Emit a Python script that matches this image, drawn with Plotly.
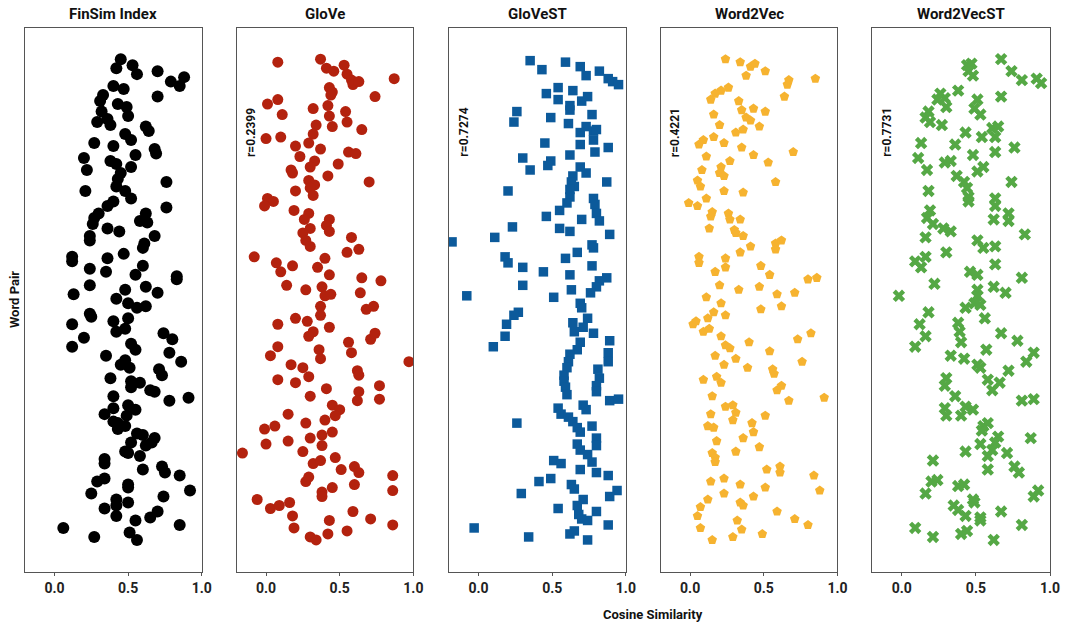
import plotly.graph_objects as go

# ---------------- data (cosine similarity vs. word-pair index) ----------------
panel_titles = ["FinSim Index", "GloVe", "GloVeST", "Word2Vec", "Word2VecST"]
r_labels = [None, "r=0.2399", "r=0.7274", "r=0.4221", "r=0.7731"]
x_ticks = [0.0, 0.5, 1.0]

finsim_x = [0.45,0.42,0.53,0.56,0.70,0.79,0.85,0.88,0.70,0.40,
            0.47,0.33,0.31,0.43,0.49,0.50,0.32,0.36,0.29,0.38,
            0.62,0.64,0.48,0.52,0.27,0.40,0.68,0.69,0.55,0.20,
            0.38,0.42,0.52,0.22,0.45,0.43,0.42,0.48,0.52,0.76,
            0.21,0.40,0.36,0.76,0.30,0.27,0.26,0.62,0.58,0.63,
            0.36,0.44,0.68,0.24,0.24,0.61,0.60,0.12,0.12,0.36,
            0.47,0.24,0.35,0.60,0.55,0.83,0.83,0.24,0.62,0.70,
            0.48,0.42,0.13,
            0.50,0.56,0.62,0.24,0.25,0.12,0.40,0.42,0.48,0.50,
            0.74,0.80,0.20,0.12,0.52,0.55,0.78,0.86,0.35,0.48,
            0.45,0.51,0.71,0.73,0.38,0.52,0.52,0.58,0.65,0.68,
            0.40,0.78,0.91,0.40,0.50,0.55,0.34,0.49,0.40,0.43,
            0.43,0.48,0.56,0.60,0.68,0.66,0.62,0.52,0.48,0.50,
            0.58,0.34,0.34,0.60,0.73,0.75,0.85,0.29,0.34,0.50,
            0.50,0.25,0.92,0.74,0.42,0.42,0.50,0.34,0.42,0.65,
            0.70,0.55,0.85,0.06,0.51,0.27,0.56]
finsim_y = [162,159,160,157,158,154.5,153,156,149.5,153,
            152,150,148,147,146,143,144.5,142,141,140,
            139.5,138,137,135,134,133,132,130.5,130,129,
            128,127,126,125,124,122,119.5,118,115.5,121,
            118,114.5,113,112.5,110.5,109,107,110.5,108,107.5,
            105.5,104.5,103,103,101.5,100.5,99,96,94.5,95.5,
            97,92,91,93,90,89.5,88.5,86.5,86,84,
            85,82,83.5,
            80.5,79,79.5,77,76,73.5,74.5,71,72,75.5,
            70.5,68.5,69,66,67,65,64,61,63,61.5,
            60,59,58.5,56.5,55.5,54.5,52.5,54,51.5,51,
            49.5,48,49,45.5,46.5,45,43.5,43,41,40.5,
            38.5,39.5,37,36.5,35.5,34,33,34,31,30.5,
            29.5,28.5,27,25,26,24,23,21,22,20,
            19,17,18,16,15,13,14,12,9.5,9,
            11,8,6.5,5.5,4,2.5,1.5]

glove_x = [0.08,0.37,0.41,0.46,0.53,0.55,0.58,0.59,0.63,0.87,
           0.43,0.45,0.44,0.74,0.01,0.08,0.11,0.32,0.42,0.43,
           0.54,0.55,0.45,0.65,0.34,0.32,0.29,0.00,0.10,0.20,
           0.37,0.56,0.61,0.23,0.33,0.30,0.49,0.17,0.18,0.42,
           0.70,0.29,0.33,0.30,0.32,0.20,0.01,0.05,-0.01,0.19,
           0.29,0.26,0.30,0.25,0.27,0.30,0.43,0.41,0.43,0.58,
           0.63,0.55,-0.08,0.07,0.10,0.18,0.40,0.35,0.43,0.14,
           0.27,0.38,0.40,0.44,0.65,0.78,0.64,
           0.37,0.37,0.68,0.73,0.20,0.28,0.08,0.32,0.29,0.43,
           0.56,0.58,0.71,0.74,0.08,0.03,0.36,0.37,0.97,0.17,
           0.25,0.29,0.62,0.63,0.08,0.20,0.77,0.77,0.63,0.62,
           0.30,0.41,0.45,0.50,0.47,0.15,0.27,0.40,-0.01,0.06,
           0.00,0.15,0.30,0.38,0.45,0.38,0.25,-0.16,0.32,0.37,
           0.47,0.51,0.60,0.63,0.27,0.29,0.86,0.86,0.38,0.38,
           0.45,0.60,-0.06,0.03,0.09,0.16,0.18,0.19,0.43,0.59,
           0.71,0.86,0.30,0.34,0.42,0.55]
glove_y = [161,162,159,158,160,157,155,153.5,154.5,155.5,
           152.5,151,150,149.5,147,148.5,143.5,145.5,146.5,143,
           144.5,141,139.5,138.5,140,137,134,135.5,136,133,
           132,131,130.5,129.5,128,126,127,125,124,123,
           121,121.5,120,119,116.5,118,115.5,114.5,113,111.5,
           110.5,108.5,105.5,104,101.5,99.5,108.5,106.5,104.5,102.5,
           98.5,97.5,96,94,91,93,95.5,92.5,90,86.5,
           85,86,83,83.5,89,88,84,
           79.5,76.5,78.5,79.5,75.5,74.5,73.5,71,69.5,72.5,
           67.5,64,68.5,70.5,66,63,65,62,61,60,
           59,56,58,56.5,55,54,53,48.5,51,48,
           49.5,52,46.5,45,43,43.5,40.5,41.5,38.5,39.5,
           33.5,34.5,35.5,36.5,37.5,33,31,30.5,27,28,
           29,25,26,24,21,22.5,23,18,17.5,16,
           19,20,15,12,13,14,9.5,5.5,8,11,
           8.5,6.5,2.5,1.5,3.5,4.5]

glovest_x = [0.35,0.43,0.59,0.69,0.73,0.82,0.88,0.91,0.95,0.46,
             0.54,0.64,0.54,0.62,0.70,0.74,0.62,0.26,0.24,0.49,
             0.61,0.77,0.73,0.69,0.78,0.80,0.78,0.88,0.45,0.69,
             0.79,0.62,0.30,0.35,0.49,0.47,0.69,0.73,0.64,0.63,
             0.65,0.87,0.62,0.62,0.60,0.20,0.78,0.79,0.80,0.82,
             0.55,0.46,0.70,0.23,0.55,0.62,0.89,-0.18,0.11,0.18,
             0.20,0.30,0.44,0.59,0.67,0.77,0.78,0.77,0.62,0.30,
             0.87,0.82,0.80,0.76,0.63,0.51,-0.08,
             0.69,0.70,0.64,0.74,0.65,0.71,0.78,0.27,0.24,0.19,
             0.18,0.10,0.89,0.69,0.67,0.62,0.61,0.60,0.58,0.58,
             0.59,0.60,0.88,0.88,0.81,0.82,0.80,0.80,0.89,0.95,
             0.71,0.73,0.54,0.56,0.61,0.64,0.67,0.69,0.77,0.80,
             0.80,0.67,0.69,0.74,0.77,0.80,0.69,0.26,0.51,0.56,
             0.41,0.49,0.63,0.65,0.88,0.94,0.89,0.29,0.71,0.67,
             0.54,0.68,0.70,0.74,0.80,0.88,-0.03,0.34,0.62,0.65,
             0.74]
glovest_y = [161.5,158.5,161,159.5,156.5,158,155.5,154.5,153.5,150.5,
             152.5,151.5,148.5,146.5,148,149.5,145,144.5,141,142.5,
             140.5,143.5,139.5,137.5,138,138.5,135,132.5,134,133.5,
             131,130,129,125,128,126.5,126,124,123,121,
             119.5,121,118.5,116,114,118,115.5,113.5,110.5,108,
             111.5,109.5,108.5,106,105.5,104.5,103.5,101,102.5,96,
             94,92.5,91,95.5,97.5,100,99,93,90,86.5,
             89,88,86,84,85,82.5,83,
             80.5,79,74,75.5,71,72.5,70.5,77.5,76.5,73.5,
             69.5,66,68,67.5,65,63.5,61,59,56.5,54.5,
             52.5,50,64,61,58.5,55.5,53,51,48,48.5,
             46.5,45,45.5,43.5,42.5,41,39,37.5,39.5,35.5,
             33,33.5,31.5,30,27.5,24,25,40.5,28,27,
             21,22,20,18.5,23,18,16,17,15,13,
             12,10,8.5,8,11,6.5,5.5,2.5,3.5,4.5,
             1.5]

w2v_x = [0.24,0.34,0.41,0.44,0.38,0.51,0.67,0.66,0.85,0.64,
         0.26,0.21,0.17,0.14,0.33,0.35,0.43,0.51,0.16,0.38,
         0.41,0.47,0.20,0.36,0.31,0.16,0.09,0.06,0.23,0.35,
         0.43,0.70,0.11,0.27,0.53,0.21,0.20,0.23,0.08,0.05,
         0.07,0.58,0.23,0.36,-0.01,0.05,0.11,0.15,0.14,0.26,
         0.27,0.34,0.30,0.31,0.36,0.13,0.41,0.58,0.62,0.58,
         0.34,0.24,0.06,0.06,0.17,0.24,0.48,0.54,0.80,0.86,
         0.20,0.33,0.47,0.59,0.71,0.11,
         0.21,0.48,0.62,0.02,0.04,0.12,0.16,0.09,0.13,0.24,
         0.21,0.24,0.27,0.40,0.54,0.73,0.82,0.17,0.31,0.23,
         0.39,0.56,0.57,0.76,0.09,0.18,0.21,0.59,0.62,0.67,
         0.91,0.15,0.24,0.29,0.31,0.29,0.14,0.51,0.12,0.16,
         0.42,0.43,0.36,0.18,0.31,0.47,0.15,0.17,0.17,0.52,
         0.61,0.61,0.84,0.14,0.23,0.34,0.51,0.23,0.43,0.88,
         0.12,0.07,0.05,0.34,0.36,0.59,0.71,0.80,0.32,0.35,
         0.07,0.15,0.29,0.49]
w2v_y = [162,161,159.5,160.5,156.5,158,155,153.5,155.5,149.5,
         152.5,151.5,150.5,148.5,148,145,145.5,144.5,143.5,142.5,
         141.5,139.5,140,138.5,137.5,136,135,133.5,134,132.5,
         130,131,129.5,128,127.5,126,124,123,125,121.5,
         119.5,121,118,117.5,114,113,115.5,111,109.5,110.5,
         108.5,108.5,105,104,103,105.5,99.5,100.5,101.5,98.5,
         97.5,95.5,96,94,91,92.5,93,90,88.5,89,
         86.5,85,86,83.5,84,82.5,
         80.5,78.5,79.5,73.5,74.5,75.5,77.5,71,72,76.5,
         69.5,66.5,65.5,67.5,64.5,68.5,70.5,63,62,60,
         59,58.5,57,61,55,56,54,51.5,53,48,
         49,49.5,46,46.5,44,41.5,43.5,43,39.5,39,
         40.5,37.5,35.5,34.5,31,32.5,30.5,29,27.5,25,
         26,24,23,21,22,20,19,17,16,18,
         15,12.5,9.5,14,13,11,8.5,6.5,8,5,
         5.5,1.5,2.5,3.5]

w2vst_x = [0.67,0.44,0.47,0.45,0.48,0.74,0.81,0.91,0.94,0.38,
           0.26,0.29,0.24,0.30,0.67,0.51,0.49,0.53,0.18,0.16,
           0.19,0.27,0.43,0.61,0.65,0.54,0.63,0.63,0.76,0.13,
           0.36,0.48,0.11,0.17,0.29,0.33,0.51,0.55,0.37,0.42,
           0.44,0.45,0.45,0.74,0.18,0.63,0.63,0.62,0.72,0.72,
           0.19,0.17,0.21,0.28,0.33,0.83,0.16,0.51,0.55,0.63,
           0.30,0.09,0.16,0.13,0.46,0.51,0.63,0.81,0.22,0.51,
           0.62,0.70,-0.02,0.51,
           0.49,0.43,0.53,0.18,0.56,0.12,0.38,0.39,0.16,0.09,
           0.40,0.67,0.78,0.57,0.89,0.84,0.33,0.42,0.51,0.53,
           0.72,0.58,0.66,0.61,0.30,0.29,0.36,0.81,0.89,0.29,
           0.30,0.43,0.48,0.40,0.55,0.58,0.54,0.65,0.63,0.61,
           0.53,0.43,0.58,0.71,0.87,0.21,0.58,0.76,0.79,0.20,
           0.24,0.38,0.42,0.16,0.89,0.92,0.48,0.49,0.35,0.38,
           0.43,0.53,0.53,0.67,0.81,0.09,0.21,0.40,0.44,0.62]
w2vst_y = [162,160,160.5,158,156.5,158,155,155.5,154,151.5,
           150.5,149,148.5,146,149.5,148.5,145.5,143.5,144.5,142.5,
           141,140,137.5,139,139.5,136,136,131,132.5,134,
           133.5,130,129,125,127.5,128,124.5,126,123,121,
           119,116,114.5,121,118,115.5,113,108.5,110.5,108,
           111.5,109,107,105.5,104.5,103.5,102.5,101.5,99,99.5,
           97.5,94.5,96,92.5,91,90,93.5,89,87,85,
           86,84,83,83,
           80.5,79,80,77.5,75.5,73.5,74,71,69.5,66,
           67.5,70.5,68,65,64,61,63,62,60,59,
           58,55,54,51.5,55.5,53,49.5,48,48.5,45.5,
           43,46,45,43,39.5,40.5,38,36,34,31.5,
           33.5,31,29.5,30.5,35.5,28,25,26,24,21,
           21.5,19.5,20,17,16,18,15,14,13,11.5,
           9.5,9,8,11,6.5,5.5,2.5,3.5,4.5,1.5]

series_x = [finsim_x, glove_x, glovest_x, w2v_x, w2vst_x]
series_y = [finsim_y, glove_y, glovest_y, w2v_y, w2vst_y]

# ---------------- styling ----------------
colors = ["#000000", "#b3220e", "#0c5a9b", "#f6b330", "#55a845"]
symbols = ["circle", "circle", "square", "pentagon", "x"]
sizes = [12, 11, 9.5, 10, 11]

W, H = 1072, 623
ML, MR, MT, MB = 25, 15, 28, 51
PW = W - ML - MR
frames_px = [(25, 203), (238, 416), (452, 630), (665, 843), (878, 1057)]
domains = [[(a - ML) / PW, (b - ML) / PW] for a, b in frames_px]

FONT = "Roboto, 'Open Sans', Arial, sans-serif"

fig = go.Figure()
layout = dict(
    width=W, height=H,
    margin=dict(l=ML, r=MR, t=MT, b=MB),
    plot_bgcolor="white", paper_bgcolor="white",
    showlegend=False,
    font=dict(family=FONT, color="#111111"),
)
annotations = []
for i in range(5):
    sfx = "" if i == 0 else str(i + 1)
    fig.add_trace(go.Scatter(
        x=series_x[i], y=series_y[i], mode="markers",
        xaxis="x" + sfx, yaxis="y" + sfx,
        marker=dict(color=colors[i], symbol=symbols[i], size=sizes[i],
                    line=dict(width=0)),
        name=panel_titles[i], hoverinfo="x+y",
    ))
    layout["xaxis" + sfx] = dict(
        domain=domains[i], range=[-0.2, 1.0], anchor="y" + sfx,
        tickvals=x_ticks, tickformat=".1f",
        ticks="outside", ticklen=3, tickwidth=1, tickcolor="#555555",
        showline=True, mirror=True, linecolor="#555555", linewidth=1.3,
        showgrid=False, zeroline=False,
        tickfont=dict(size=14, family=FONT, weight="bold", color="#222222"),
    )
    layout["yaxis" + sfx] = dict(
        domain=[0, 1], range=[-9.2, 172.4], anchor="x" + sfx,
        showticklabels=False, ticks="",
        showline=True, mirror=True, linecolor="#555555", linewidth=1.3,
        showgrid=False, zeroline=False,
    )
    annotations.append(dict(
        text=panel_titles[i], xref="x" + sfx + " domain", yref="paper",
        x=0.5, y=1.0, xanchor="center", yanchor="bottom", yshift=3,
        showarrow=False, font=dict(size=15, family=FONT, weight="bold", color="#111111"),
    ))
    if r_labels[i]:
        annotations.append(dict(
            text=r_labels[i], xref="x" + sfx, yref="y" + sfx,
            x=-0.105, y=137.5, textangle=-90, showarrow=False,
            xanchor="center", yanchor="middle",
            font=dict(size=12, family=FONT, weight="bold", color="#111111"),
        ))

annotations.append(dict(
    text="Cosine Similarity", xref="paper", yref="paper",
    x=(657 - ML) / PW, y=0, xanchor="center", yanchor="top", yshift=-33,
    showarrow=False, font=dict(size=13, family=FONT, weight="bold", color="#111111"),
))
annotations.append(dict(
    text="Word Pair", xref="paper", yref="paper",
    x=(14 - ML) / PW, y=0.5, xanchor="center", yanchor="middle", textangle=-90,
    showarrow=False, font=dict(size=13, family=FONT, weight="bold", color="#111111"),
))
layout["annotations"] = annotations
fig.update_layout(**layout)

fig.write_html(
    "out.html",
    config={"displayModeBar": False},
    post_script="document.body.style.margin='0px';document.body.style.overflow='hidden';",
)
